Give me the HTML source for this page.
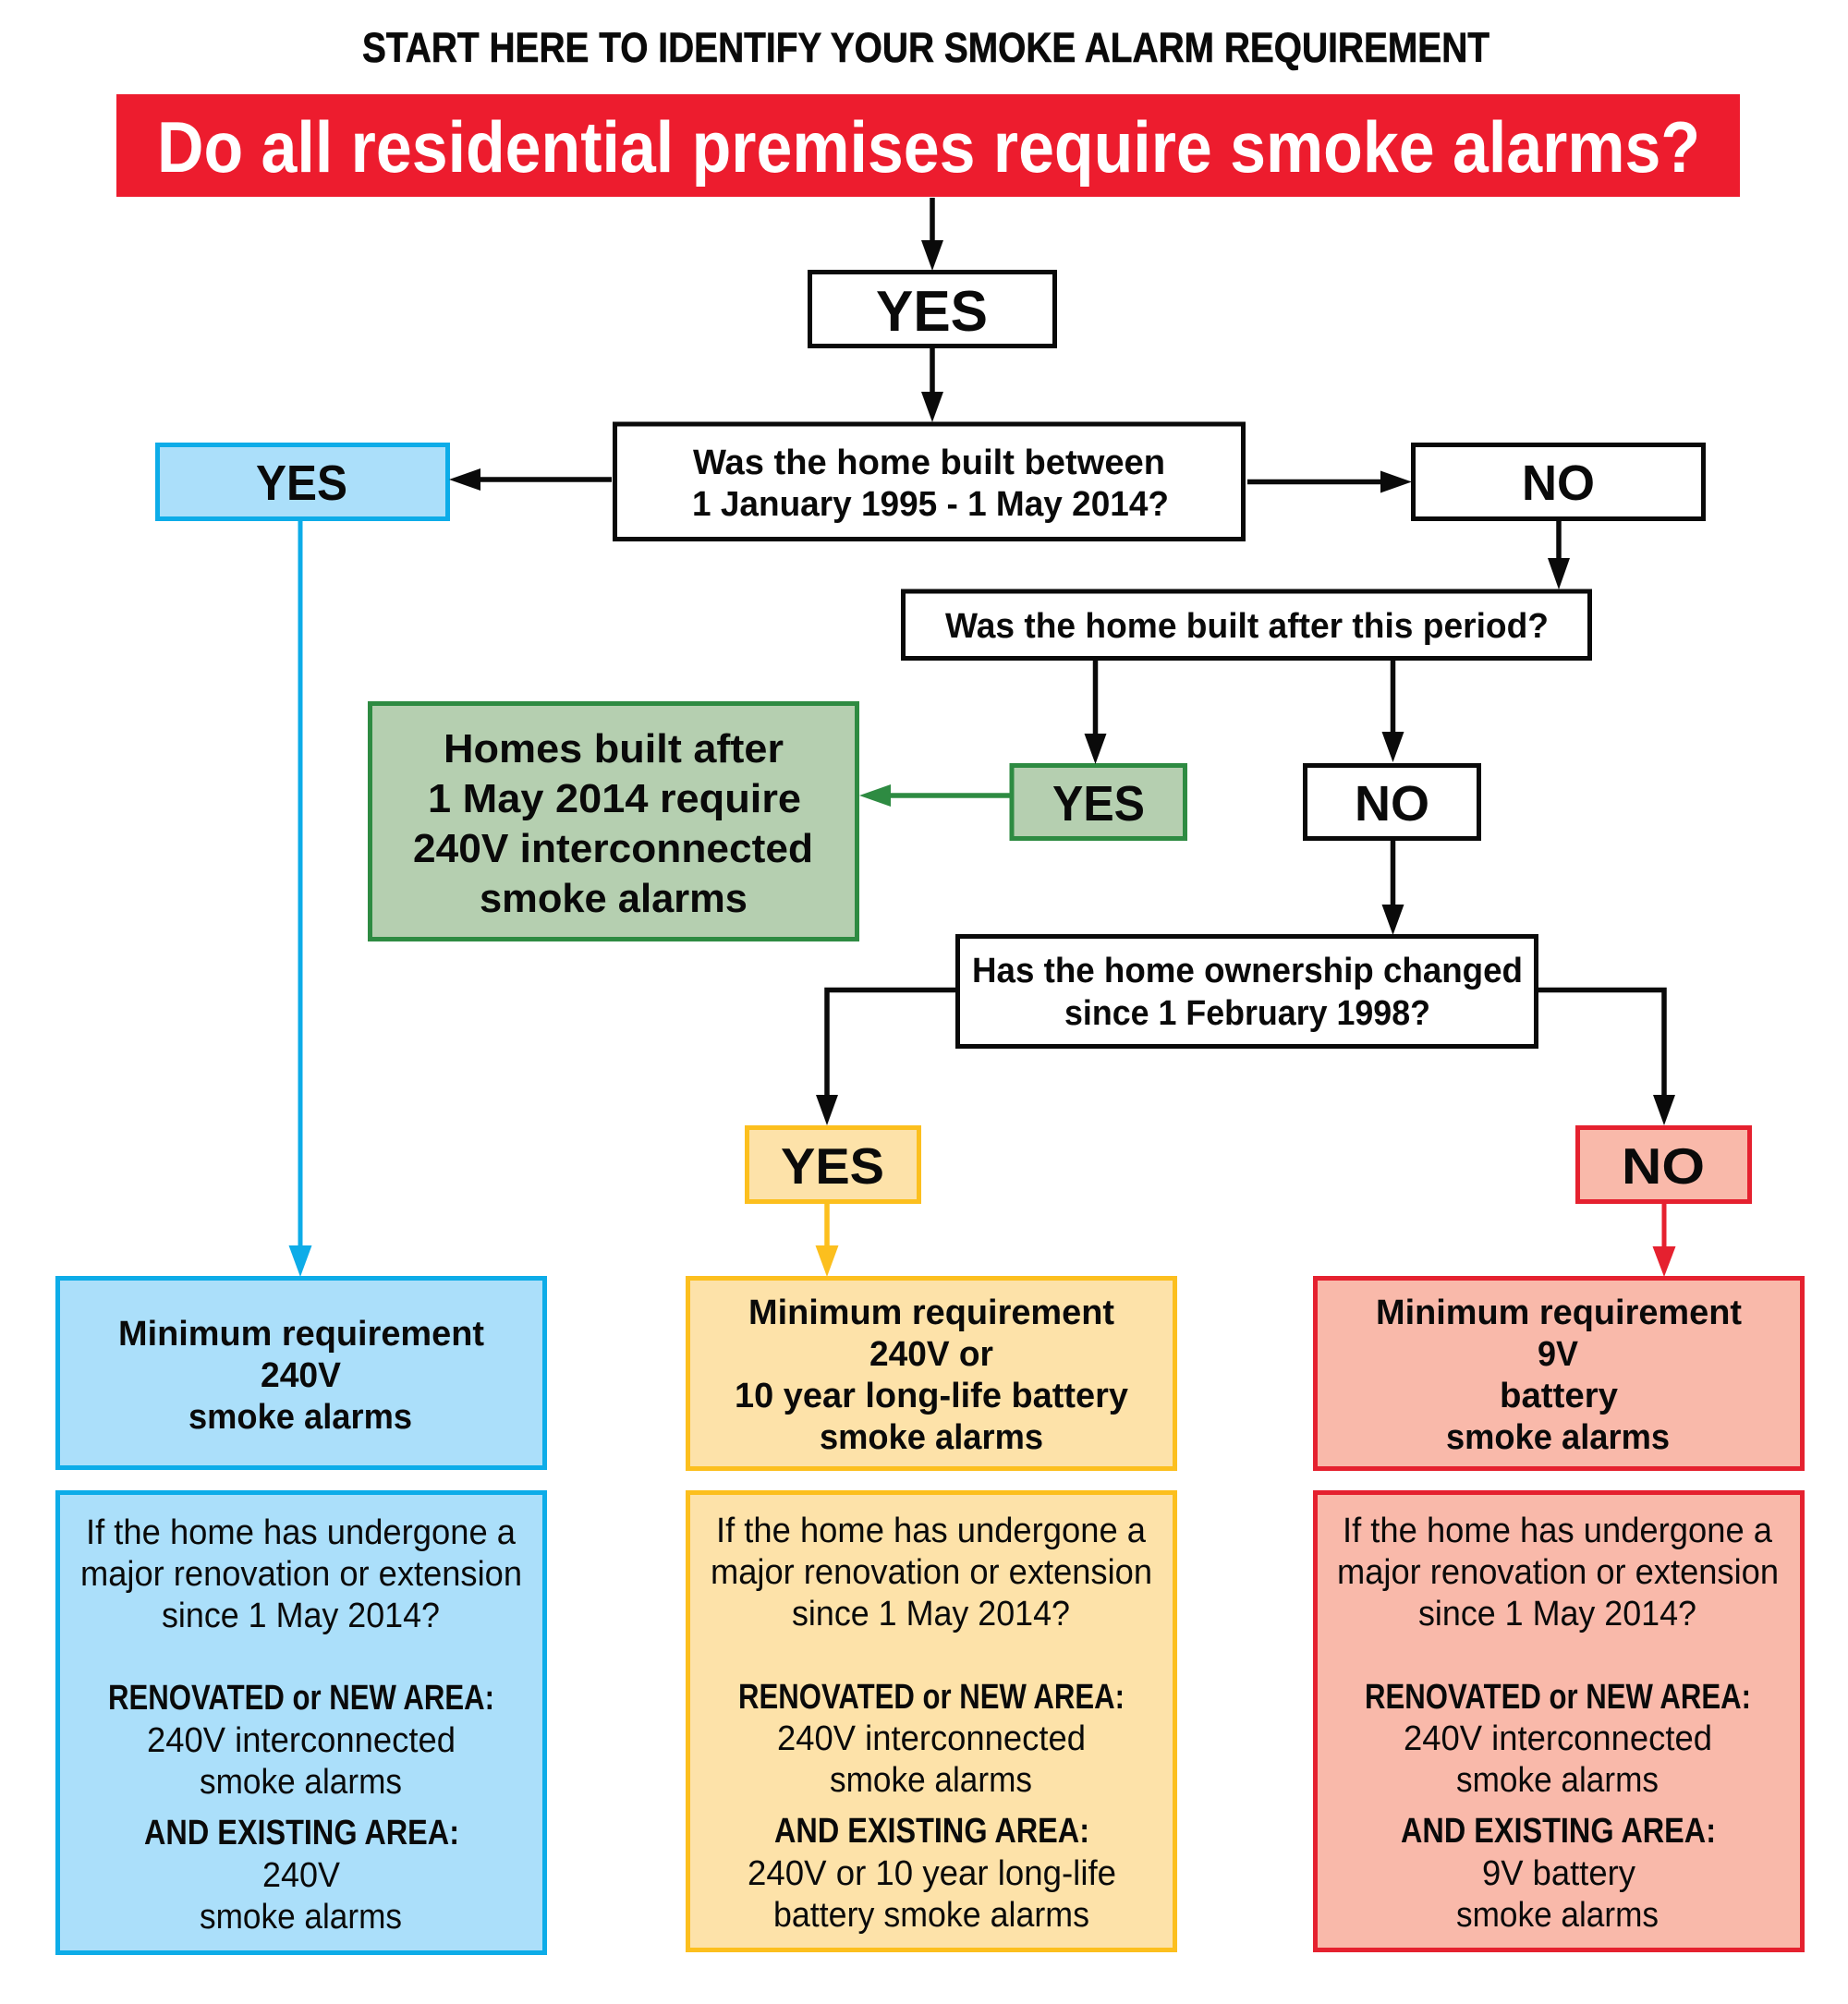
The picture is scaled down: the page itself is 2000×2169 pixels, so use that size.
<!DOCTYPE html>
<html><head><meta charset="utf-8"><style>
html,body{margin:0;padding:0;background:#fff}
svg{display:block}
text{font-family:"Liberation Sans",sans-serif;fill:#0a0a0a}
.b{font-weight:bold}
.t{font-size:38px}
</style></head><body>
<svg width="2000" height="2169" viewBox="0 0 2000 2169" xmlns="http://www.w3.org/2000/svg">
<rect width="2000" height="2169" fill="#fff"/>
<text class="b" x="392" y="67" font-size="45" stroke="#0a0a0a" stroke-width="0.6" textLength="1220" lengthAdjust="spacingAndGlyphs">START HERE TO IDENTIFY YOUR SMOKE ALARM REQUIREMENT</text>
<rect x="126" y="102" width="1757" height="111" fill="#ed1c2e"/>
<text class="b" x="170" y="186" font-size="78" style="fill:#fff" textLength="1670" lengthAdjust="spacingAndGlyphs">Do all residential premises require smoke alarms?</text>

<g fill="none" stroke-width="5">
<rect x="876.5" y="294.5" width="265" height="80" stroke="#0a0a0a"/>
<rect x="665.5" y="459" width="680" height="124.5" stroke="#0a0a0a"/>
<rect x="170.5" y="481.5" width="314" height="80" stroke="#0dace8" fill="#abdffa"/>
<rect x="1529.5" y="481.5" width="314" height="80" stroke="#0a0a0a"/>
<rect x="977.5" y="640" width="743" height="72.5" stroke="#0a0a0a"/>
<rect x="400.5" y="761.5" width="527" height="255" stroke="#2e8b42" fill="#b5cfb0"/>
<rect x="1095" y="828.5" width="187.5" height="79" stroke="#2e8b42" fill="#b5cfb0"/>
<rect x="1412.5" y="828.5" width="188" height="79" stroke="#0a0a0a"/>
<rect x="1036.5" y="1013.5" width="626" height="119" stroke="#0a0a0a"/>
<rect x="808.5" y="1220.5" width="186" height="80" stroke="#fcbf1e" fill="#fde2a9"/>
<rect x="1707.5" y="1220.5" width="186" height="80" stroke="#e5212f" fill="#f9b9aa"/>
<rect x="62.5" y="1383.5" width="527" height="205" stroke="#0dace8" fill="#abdffa"/>
<rect x="62.5" y="1615.5" width="527" height="498" stroke="#0dace8" fill="#abdffa"/>
<rect x="744.5" y="1383.5" width="527" height="206" stroke="#fcbf1e" fill="#fde2a9"/>
<rect x="744.5" y="1615.5" width="527" height="495" stroke="#fcbf1e" fill="#fde2a9"/>
<rect x="1423.5" y="1383.5" width="527" height="206" stroke="#e5212f" fill="#f9b9aa"/>
<rect x="1423.5" y="1615.5" width="527" height="495" stroke="#e5212f" fill="#f9b9aa"/>
</g>

<g stroke="#0a0a0a" stroke-width="5.5" fill="none">
<path d="M1009 214V262"/><path d="M1009 377V426"/>
<path d="M662 519H518"/><path d="M1350 521.5H1496"/>
<path d="M1687 564V606"/><path d="M1185.500 715V796"/><path d="M1507.500 715V794"/><path d="M1507.500 910V980"/>
<path d="M1034 1071.500H895V1187"/><path d="M1665 1071.500H1801V1187"/>
</g>
<g fill="#0a0a0a">
<path d="M997 260H1021L1009 293Z"/>
<path d="M997 424H1021L1009 457Z"/>
<path d="M486 519L520 507V531Z"/>
<path d="M1528 521.500L1494 509.500V533.500Z"/>
<path d="M1675 604H1699L1687 638Z"/>
<path d="M1173.500 794H1197.500L1185.500 827Z"/>
<path d="M1495.500 792H1519.500L1507.500 825Z"/>
<path d="M1495.500 979H1519.500L1507.500 1012Z"/>
<path d="M883 1185H907L895 1218Z"/>
<path d="M1789 1185H1813L1801 1218Z"/>
</g>
<path d="M325 564V1350" stroke="#0dace8" stroke-width="5" fill="none"/>
<path d="M312.500 1348H337.500L325 1382Z" fill="#0dace8"/>
<path d="M895 1303V1350" stroke="#fcbf1e" stroke-width="5.500" fill="none"/>
<path d="M882.500 1348H907.500L895 1382Z" fill="#fcbf1e"/>
<path d="M1801 1303V1350" stroke="#e5212f" stroke-width="5" fill="none"/>
<path d="M1788.500 1349H1813.500L1801 1382Z" fill="#e5212f"/>
<path d="M1093 861H962" stroke="#2e8b42" stroke-width="5.500" fill="none"/>
<path d="M930 861L964 849V873Z" fill="#2e8b42"/>

<text class="b" x="948" y="358" font-size="62" textLength="121" lengthAdjust="spacingAndGlyphs">YES</text>
<text class="b" x="277" y="541" font-size="54" textLength="99" lengthAdjust="spacingAndGlyphs">YES</text>
<text class="b" x="1647" y="541" font-size="54" textLength="79" lengthAdjust="spacingAndGlyphs">NO</text>
<text class="b" x="1139" y="888" font-size="54" textLength="100" lengthAdjust="spacingAndGlyphs">YES</text>
<text class="b" x="1466" y="888" font-size="54" textLength="81" lengthAdjust="spacingAndGlyphs">NO</text>
<text class="b" x="845" y="1281" font-size="55" textLength="112" lengthAdjust="spacingAndGlyphs">YES</text>
<text class="b" x="1755" y="1281" font-size="55" textLength="90" lengthAdjust="spacingAndGlyphs">NO</text>

<text class="b" x="750" y="513" font-size="38" textLength="511" lengthAdjust="spacingAndGlyphs">Was the home built between</text>
<text class="b" x="749" y="558" font-size="38" textLength="516" lengthAdjust="spacingAndGlyphs">1 January 1995 - 1 May 2014?</text>
<text class="b" x="1023" y="690" font-size="38" textLength="653" lengthAdjust="spacingAndGlyphs">Was the home built after this period?</text>
<text class="b" x="1052" y="1063" font-size="38" textLength="596" lengthAdjust="spacingAndGlyphs">Has the home ownership changed</text>
<text class="b" x="1152" y="1109" font-size="38" textLength="396" lengthAdjust="spacingAndGlyphs">since 1 February 1998?</text>

<text class="b" x="480" y="825" font-size="44" textLength="368" lengthAdjust="spacingAndGlyphs">Homes built after</text>
<text class="b" x="463" y="879" font-size="44" textLength="404" lengthAdjust="spacingAndGlyphs">1 May 2014 require</text>
<text class="b" x="447" y="933" font-size="44" textLength="433" lengthAdjust="spacingAndGlyphs">240V interconnected</text>
<text class="b" x="519" y="987" font-size="44" textLength="290" lengthAdjust="spacingAndGlyphs">smoke alarms</text>

<g class="t">
<text class="b t" x="128" y="1456" textLength="396" lengthAdjust="spacingAndGlyphs">Minimum requirement</text>
<text class="b t" x="282" y="1501" textLength="87" lengthAdjust="spacingAndGlyphs">240V</text>
<text class="b t" x="204" y="1546" textLength="242" lengthAdjust="spacingAndGlyphs">smoke alarms</text>

<text class="t" x="93" y="1671" textLength="465" lengthAdjust="spacingAndGlyphs">If the home has undergone a</text>
<text class="t" x="87" y="1716" textLength="478" lengthAdjust="spacingAndGlyphs">major renovation or extension</text>
<text class="t" x="175" y="1761" textLength="301" lengthAdjust="spacingAndGlyphs">since 1 May 2014?</text>
<text class="b t" x="117" y="1850" textLength="418" lengthAdjust="spacingAndGlyphs">RENOVATED or NEW AREA:</text>
<text class="t" x="159" y="1896" textLength="334" lengthAdjust="spacingAndGlyphs">240V interconnected</text>
<text class="t" x="216" y="1941" textLength="219" lengthAdjust="spacingAndGlyphs">smoke alarms</text>
<text class="b t" x="156" y="1996" textLength="341" lengthAdjust="spacingAndGlyphs">AND EXISTING AREA:</text>
<text class="t" x="284" y="2042" textLength="84" lengthAdjust="spacingAndGlyphs">240V</text>
<text class="t" x="216" y="2087" textLength="219" lengthAdjust="spacingAndGlyphs">smoke alarms</text>

<text class="b t" x="810" y="1433" textLength="396" lengthAdjust="spacingAndGlyphs">Minimum requirement</text>
<text class="b t" x="941" y="1478" textLength="134" lengthAdjust="spacingAndGlyphs">240V or</text>
<text class="b t" x="795" y="1523" textLength="426" lengthAdjust="spacingAndGlyphs">10 year long-life battery</text>
<text class="b t" x="887" y="1568" textLength="242" lengthAdjust="spacingAndGlyphs">smoke alarms</text>

<text class="t" x="775" y="1669" textLength="465" lengthAdjust="spacingAndGlyphs">If the home has undergone a</text>
<text class="t" x="769" y="1714" textLength="478" lengthAdjust="spacingAndGlyphs">major renovation or extension</text>
<text class="t" x="857" y="1759" textLength="301" lengthAdjust="spacingAndGlyphs">since 1 May 2014?</text>
<text class="b t" x="799" y="1849" textLength="418" lengthAdjust="spacingAndGlyphs">RENOVATED or NEW AREA:</text>
<text class="t" x="841" y="1894" textLength="334" lengthAdjust="spacingAndGlyphs">240V interconnected</text>
<text class="t" x="898" y="1939" textLength="219" lengthAdjust="spacingAndGlyphs">smoke alarms</text>
<text class="b t" x="838" y="1994" textLength="341" lengthAdjust="spacingAndGlyphs">AND EXISTING AREA:</text>
<text class="t" x="809" y="2040" textLength="399" lengthAdjust="spacingAndGlyphs">240V or 10 year long-life</text>
<text class="t" x="837" y="2085" textLength="342" lengthAdjust="spacingAndGlyphs">battery smoke alarms</text>

<text class="b t" x="1489" y="1433" textLength="396" lengthAdjust="spacingAndGlyphs">Minimum requirement</text>
<text class="b t" x="1664" y="1478" textLength="44" lengthAdjust="spacingAndGlyphs">9V</text>
<text class="b t" x="1623" y="1523" textLength="128" lengthAdjust="spacingAndGlyphs">battery</text>
<text class="b t" x="1565" y="1568" textLength="242" lengthAdjust="spacingAndGlyphs">smoke alarms</text>

<text class="t" x="1453" y="1669" textLength="465" lengthAdjust="spacingAndGlyphs">If the home has undergone a</text>
<text class="t" x="1447" y="1714" textLength="478" lengthAdjust="spacingAndGlyphs">major renovation or extension</text>
<text class="t" x="1535" y="1759" textLength="301" lengthAdjust="spacingAndGlyphs">since 1 May 2014?</text>
<text class="b t" x="1477" y="1849" textLength="418" lengthAdjust="spacingAndGlyphs">RENOVATED or NEW AREA:</text>
<text class="t" x="1519" y="1894" textLength="334" lengthAdjust="spacingAndGlyphs">240V interconnected</text>
<text class="t" x="1576" y="1939" textLength="219" lengthAdjust="spacingAndGlyphs">smoke alarms</text>
<text class="b t" x="1516" y="1994" textLength="341" lengthAdjust="spacingAndGlyphs">AND EXISTING AREA:</text>
<text class="t" x="1604" y="2040" textLength="166" lengthAdjust="spacingAndGlyphs">9V battery</text>
<text class="t" x="1576" y="2085" textLength="219" lengthAdjust="spacingAndGlyphs">smoke alarms</text>
</g>
</svg>
</body></html>
